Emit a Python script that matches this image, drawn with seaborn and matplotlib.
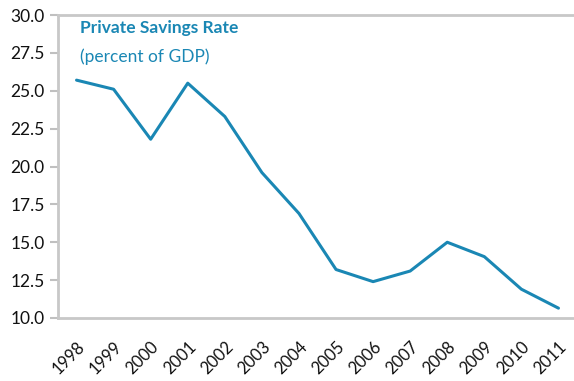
import matplotlib
matplotlib.use("Agg")
import matplotlib.pyplot as plt
import seaborn as sns
import pandas as pd
from matplotlib.ticker import FixedLocator, FormatStrFormatter

years = ["1998", "1999", "2000", "2001", "2002", "2003", "2004",
         "2005", "2006", "2007", "2008", "2009", "2010", "2011"]
savings = [25.7, 25.1, 21.8, 25.5, 23.3, 19.6, 16.9,
           13.2, 12.4, 13.1, 15.0, 14.05, 11.9, 10.65]
title = "Private Savings Rate"
subtitle = "(percent of GDP)"
y_ticks = [10.0, 12.5, 15.0, 17.5, 20.0, 22.5, 25.0, 27.5, 30.0]

sns.set_style("white")
plt.rcParams['font.family'] = ['Lato', 'DejaVu Sans']

df = pd.DataFrame({"year": years, "rate": savings})
df["pos"] = range(len(years))

fig = plt.figure(figsize=(5.74, 3.81), dpi=100)
ax = fig.add_axes([58/574, 63/381, 519/574, 303/381])

blue = "#1a87b4"
sns.lineplot(data=df, x="pos", y="rate", ax=ax, color=blue, linewidth=2.2)

ax.set_xlim(-0.5, len(years) - 0.5)
ax.set_ylim(10, 30)
ax.set_yticks(y_ticks)
ax.yaxis.set_major_formatter(FormatStrFormatter("%.1f"))
ax.set_xticks(list(df["pos"]))
ax.set_xticklabels(years, rotation=45, ha="right", rotation_mode="anchor")
ax.xaxis.set_minor_locator(FixedLocator([i - 0.5 for i in range(len(years) + 1)]))
ax.tick_params(axis="x", which="major", length=0, pad=15, labelsize=12, colors="#111111")
ax.tick_params(axis="x", which="minor", length=6, width=1.5, color="#c0c0c0", direction="out")
ax.tick_params(axis="y", which="major", length=6, width=1.5, color="#c0c0c0",
               labelsize=12.5, labelcolor="#111111", left=True, direction="out")
ax.set_xlabel("")
ax.set_ylabel("")

for side in ["left", "bottom", "top"]:
    ax.spines[side].set_color("#c8c8c8")
    ax.spines[side].set_linewidth(2)
ax.spines["right"].set_visible(False)

ax.text((80-58)/519, 1 - (28-15)/303, title, transform=ax.transAxes, fontsize=12.5,
        fontweight="bold", color=blue, va="center", ha="left")
ax.text((80-58)/519, 1 - (57-15)/303, subtitle, transform=ax.transAxes, fontsize=12.5,
        color=blue, va="center", ha="left")

fig.savefig("out.png", dpi=100)
